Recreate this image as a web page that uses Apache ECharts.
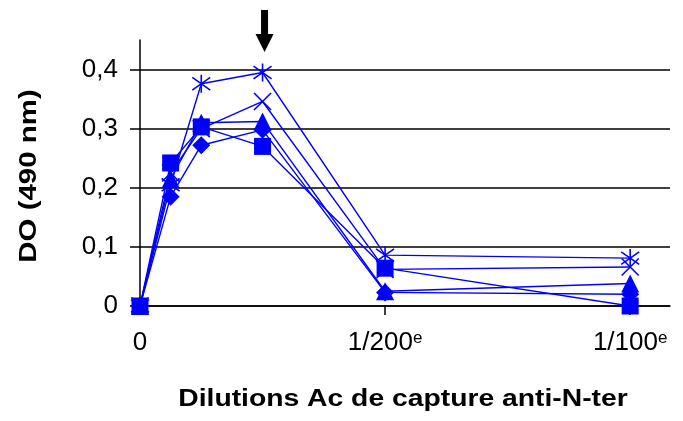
<!DOCTYPE html>
<html><head><meta charset="utf-8">
<script src="https://cdn.jsdelivr.net/npm/echarts@6/dist/echarts.min.js"></script>
<style>html,body{margin:0;padding:0;background:#fff}#c{width:683px;height:421px}</style>
</head><body><div id="c"></div>
<script>
// Data
const xValues = [0, 1, 2, 4, 8, 16];
const seriesNames = ['Série 1', 'Série 2', 'Série 3', 'Série 4', 'Série 5'];
const diamondVals  = [0, 0.185, 0.272, 0.298, 0.023, 0.020];
const triangleVals = [0, 0.215, 0.310, 0.312, 0.025, 0.038];
const squareVals   = [0, 0.242, 0.303, 0.270, 0.064, 0.000];
const crossVals    = [0, 0.225, 0.300, 0.346, 0.062, 0.066];
const starVals     = [0, 0.205, 0.376, 0.395, 0.086, 0.081];
const yTickValues = [0, 0.1, 0.2, 0.3, 0.4];
const xTickValues = [8, 16];
const xLabelValues = [0, 8, 16];
const xLabelTexts = ['0', '1/200', '1/100'];
const arrowAt = 4;
const yTitle = 'DO (490 nm)';
const xTitle = 'Dilutions Ac de capture anti-N-ter';

const BLUE = '#0000ff';
const FONT = 'Liberation Sans, Arial, sans-serif';

function pairs(vals) { return xValues.map((x, i) => [x, vals[i]]); }

function mk(name, vals, symbol, size, stroke) {
  return {
    name, type: 'line', data: pairs(vals),
    symbol, symbolSize: size, symbolKeepAspect: false,
    lineStyle: { color: BLUE, width: 1.4 },
    itemStyle: stroke
      ? { color: 'rgba(0,0,0,0)', borderColor: BLUE, borderWidth: 1.6 }
      : { color: BLUE, borderWidth: 0 },
    emphasis: { disabled: true },
    animation: false
  };
}

const chart = echarts.init(document.getElementById('c'), null, { renderer: 'canvas' });
const option = {
  backgroundColor: '#fff',
  animation: false,
  grid: { left: 140, right: 13, top: 40, bottom: 115, containLabel: false },
  xAxis: {
    type: 'value', min: 0, max: 17.3, interval: 8,
    axisLine: { show: true, lineStyle: { color: '#000', width: 1.5 } },
    axisTick: { show: true, customValues: xTickValues, length: 9, lineStyle: { color: '#000', width: 1.5 } },
    splitLine: { show: false },
    axisLabel: {
      customValues: xLabelValues,
      margin: 24,
      formatter: v => {
        const i = xLabelValues.indexOf(v);
        if (i < 0) return '';
        return v === 0 ? xLabelTexts[i] : '{a|' + xLabelTexts[i] + '}{s|e}';
      },
      fontFamily: FONT, fontSize: 26, color: '#000',
      rich: {
        a: { fontFamily: FONT, fontSize: 26, color: '#000', verticalAlign: 'bottom' },
        s: { fontFamily: FONT, fontSize: 17, color: '#000', verticalAlign: 'top' }
      }
    }
  },
  yAxis: {
    type: 'value', min: 0, max: 0.45, interval: 0.1,
    axisLine: { show: true, lineStyle: { color: '#000', width: 1.5 } },
    axisTick: { show: true, customValues: yTickValues, length: 10, lineStyle: { color: '#000', width: 1.5 } },
    splitLine: { show: true, showMaxLine: true, lineStyle: { color: '#000', width: 1.5 } },
    axisLabel: {
      customValues: yTickValues,
      margin: 22,
      formatter: v => v === 0 ? '0' : v.toFixed(1).replace('.', ','),
      fontFamily: FONT, fontSize: 26, color: '#000'
    }
  },
  series: [
    mk(seriesNames[0], diamondVals, 'diamond', 18, false),
    mk(seriesNames[2], triangleVals, 'triangle', 18, false),
    mk(seriesNames[1], squareVals, 'rect', 17, false),
    mk(seriesNames[3], crossVals, 'path://M0,0L10,10M10,0L0,10', 17, true),
    mk(seriesNames[4], starVals, 'path://M5,0L5,10M0,1.5L10,8.5M10,1.5L0,8.5', 18, true)
  ]
};
chart.setOption(option);

const p = chart.convertToPixel({ xAxisIndex: 0, yAxisIndex: 0 }, [arrowAt, 0.45]);
const ax = p[0] + 2;
chart.setOption({
  graphic: [
    { type: 'rect', shape: { x: ax - 3.5, y: 10, width: 7, height: 26 }, style: { fill: '#000' } },
    { type: 'polygon', shape: { points: [[ax - 9, 34], [ax + 9, 34], [ax, 52]] }, style: { fill: '#000' } },
    { type: 'text', x: 30, y: 176, rotation: Math.PI / 2, scaleX: 1.28,
      style: { text: yTitle, font: 'bold 23px ' + FONT, fill: '#000', align: 'center', verticalAlign: 'middle' } },
    { type: 'text', x: 403, y: 400, scaleX: 1.23,
      style: { text: xTitle, font: 'bold 23px ' + FONT, fill: '#000', align: 'center', verticalAlign: 'middle' } }
  ]
});
</script></body></html>
